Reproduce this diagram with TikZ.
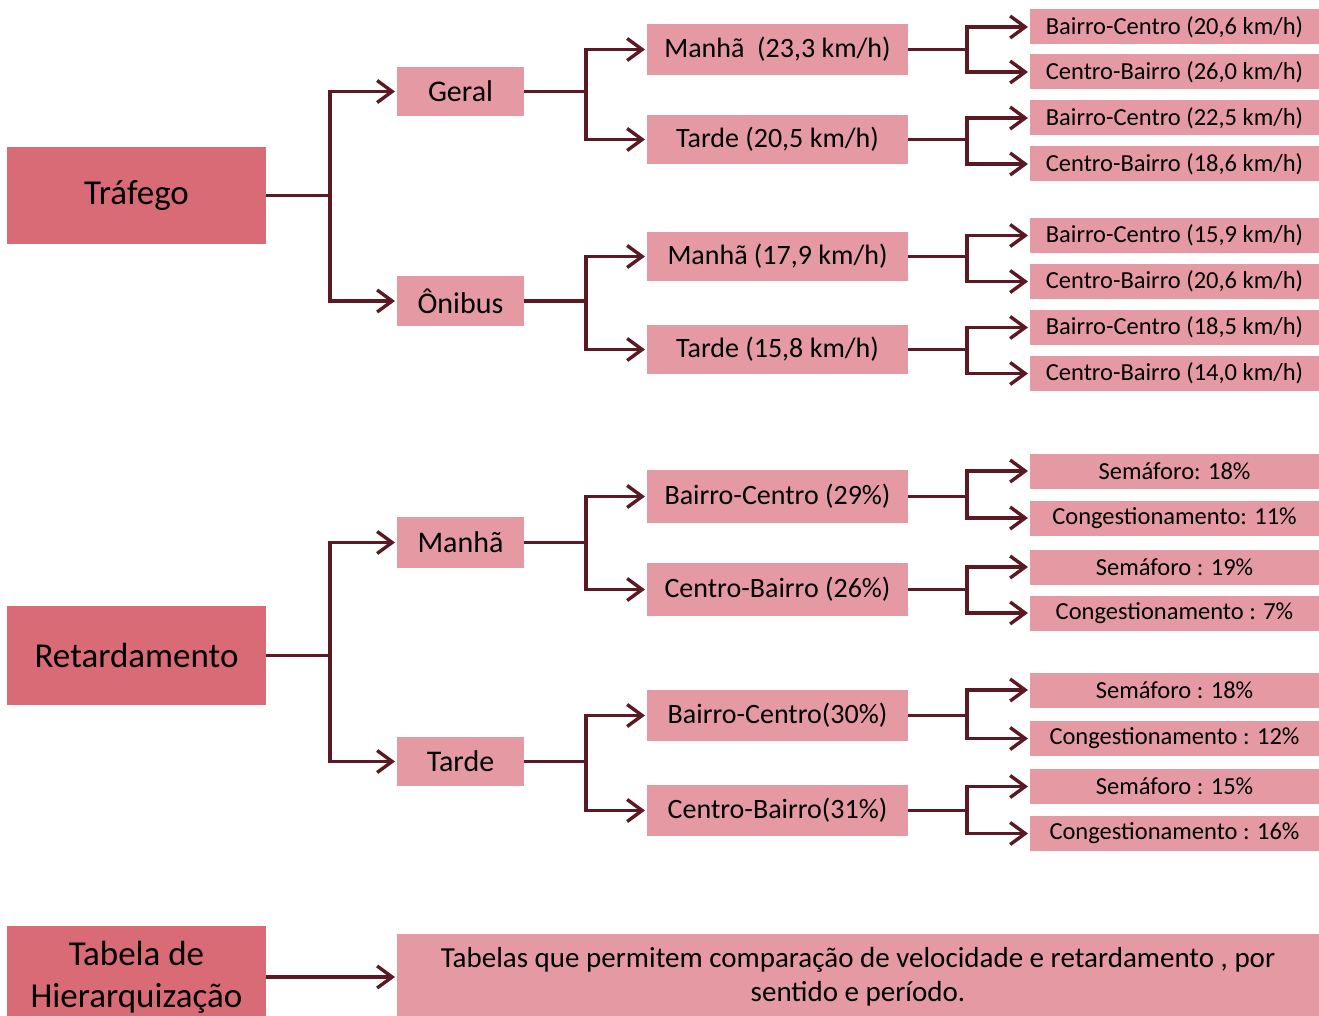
\documentclass[tikz,border=0pt]{standalone}
\usepackage{fontspec}
\setmainfont{Carlito}
\usetikzlibrary{arrows.meta}
\definecolor{darkbox}{HTML}{D96B76}
\definecolor{lightbox}{HTML}{E59AA3}
\definecolor{linec}{HTML}{5B1A23}
\tikzset{
  base/.style={inner sep=0pt, outer sep=0pt, align=center, text=black},
  lvA/.style={base, fill=darkbox, minimum width=259pt, font=\fontsize{35}{42}\selectfont},
  lvB/.style={base, fill=lightbox, minimum width=127pt, font=\fontsize{30}{36}\selectfont},
  lvC/.style={base, fill=lightbox, minimum width=261pt, font=\fontsize{28}{33}\selectfont},
  lvD/.style={base, fill=lightbox, minimum width=289pt, minimum height=35pt, font=\fontsize{24.5}{29}\selectfont},
  note/.style={base, fill=lightbox, minimum width=922pt, minimum height=86pt, font=\fontsize{29}{34}\selectfont},
  conn/.style={draw=linec, line width=3.4pt, line join=miter},
  arr/.style={conn, -{Straight Barb[length=15pt, width=22pt, line width=3.4pt]}, shorten >=2pt},
}
\newcommand{\branch}[4]{%
  \draw[conn] (#1.east) -- (#1.east -| #2);
  \draw[arr] (#1.east -| #2) |- (#3.west);
  \draw[arr] (#1.east -| #2) |- (#4.west);
}
\begin{document}
\begin{tikzpicture}[x=1pt, y=-1pt]
\useasboundingbox (0,0) rectangle (1319,1016);
\clip (0,0) rectangle (1319,1016);
\coordinate (b0) at (330,0);
\coordinate (b1) at (586,0);
\coordinate (b2) at (967,0);
% level 0
\node[lvA, minimum height=97pt] (traf) at (136.5,195.5) {Tráfego};
\node[lvA, minimum height=99pt] (ret) at (136.5,655.5) {Retardamento};
\node[lvA, minimum height=102pt] (tab) at (136.5,977) {Tabela de\\Hierarquização};
% level 1
\node[lvB, minimum height=49pt] (geral) at (460.5,91.5) {Geral};
\node[lvB, minimum height=50pt] (onib) at (460.5,301) {Ônibus};
\node[lvB, minimum height=51pt] (manha) at (460.5,542.5) {Manhã};
\node[lvB, minimum height=49pt] (tarde) at (460.5,761.5) {Tarde};
% level 2
\node[lvC, minimum height=51pt] (gm) at (777.5,49.5) {Manhã\ \ (23,3 km/h)};
\node[lvC, minimum height=49pt] (gt) at (777.5,139.5) {Tarde (20,5 km/h)};
\node[lvC, minimum height=49pt] (om) at (777.5,256.5) {Manhã (17,9 km/h)};
\node[lvC, minimum height=49pt] (ot) at (777.5,349.5) {Tarde (15,8 km/h)};
\node[lvC, minimum height=53pt] (mbc) at (777.5,496.5) {Bairro-Centro (29\%)};
\node[lvC, minimum height=53pt] (mcb) at (777.5,589.5) {Centro-Bairro (26\%)};
\node[lvC, minimum height=51pt] (tbc) at (777.5,715.5) {Bairro-Centro(30\%)};
\node[lvC, minimum height=51pt] (tcb) at (777.5,810.5) {Centro-Bairro(31\%)};
% level 3
\node[lvD] (d1) at (1174.5,27) {Bairro-Centro (20,6 km/h)};
\node[lvD] (d2) at (1174.5,72) {Centro-Bairro (26,0 km/h)};
\node[lvD] (d3) at (1174.5,118) {Bairro-Centro (22,5 km/h)};
\node[lvD] (d4) at (1174.5,164) {Centro-Bairro (18,6 km/h)};
\node[lvD] (d5) at (1174.5,235.5) {Bairro-Centro (15,9 km/h)};
\node[lvD] (d6) at (1174.5,281.5) {Centro-Bairro (20,6 km/h)};
\node[lvD] (d7) at (1174.5,327.5) {Bairro-Centro (18,5 km/h)};
\node[lvD] (d8) at (1174.5,373.5) {Centro-Bairro (14,0 km/h)};
\node[lvD] (e1) at (1174.5,471) {Semáforo: 18\%};
\node[lvD] (e2) at (1174.5,518) {Congestionamento: 11\%};
\node[lvD] (e3) at (1174.5,567) {Semáforo : 19\%};
\node[lvD] (e4) at (1174.5,613) {Congestionamento : 7\%};
\node[lvD] (e5) at (1174.5,690) {Semáforo : 18\%};
\node[lvD] (e6) at (1174.5,738.5) {Congestionamento : 12\%};
\node[lvD] (e7) at (1174.5,786.5) {Semáforo : 15\%};
\node[lvD] (e8) at (1174.5,833.5) {Congestionamento : 16\%};
% note
\node[note] (nt) at (858,977) {Tabelas que permitem comparação de velocidade e retardamento , por\\sentido e período.};
% connectors
\branch{traf}{b0}{geral}{onib}
\branch{ret}{b0}{manha}{tarde}
\branch{geral}{b1}{gm}{gt}
\branch{onib}{b1}{om}{ot}
\branch{manha}{b1}{mbc}{mcb}
\branch{tarde}{b1}{tbc}{tcb}
\branch{gm}{b2}{d1}{d2}
\branch{gt}{b2}{d3}{d4}
\branch{om}{b2}{d5}{d6}
\branch{ot}{b2}{d7}{d8}
\branch{mbc}{b2}{e1}{e2}
\branch{mcb}{b2}{e3}{e4}
\branch{tbc}{b2}{e5}{e6}
\branch{tcb}{b2}{e7}{e8}
\draw[arr] (tab.east) -- (nt.west);
\end{tikzpicture}
\end{document}
